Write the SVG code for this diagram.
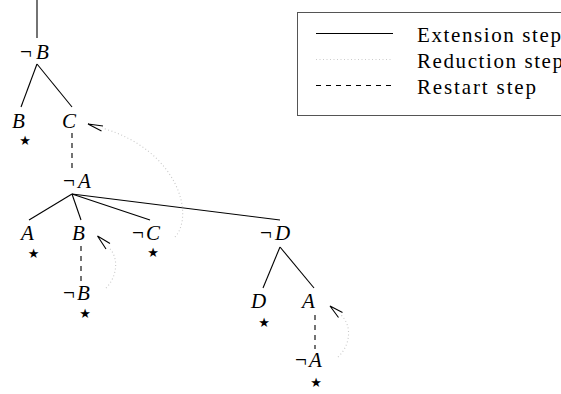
<svg xmlns="http://www.w3.org/2000/svg" width="561" height="394" viewBox="0 0 561 394">
<style>
.lbl{font-family:"Liberation Serif",serif;font-size:21px;fill:#000}
.v{font-style:italic}
.star{font-family:"DejaVu Sans",sans-serif;font-size:13px;fill:#000;text-anchor:middle}
.ext{stroke:#000;stroke-width:1.1;fill:none}
.res{stroke:#000;stroke-width:1.1;fill:none;stroke-dasharray:5 5}
.red{stroke:#c8c8c8;stroke-width:1.1;fill:none;stroke-dasharray:1 2.5}
.ah{stroke:#000;stroke-width:1.1;fill:none}
.leg{font-family:"Liberation Serif",serif;font-size:21px;fill:#000}
</style>
<rect width="561" height="394" fill="#fff"/>
<g id="connectors">
<line class="ext" x1="37" y1="0" x2="37" y2="38"/>
<line class="ext" x1="37" y1="64" x2="21" y2="107"/>
<line class="ext" x1="37" y1="64" x2="72" y2="107"/>
<line class="res" x1="72" y1="133" x2="72" y2="170"/>
<line class="ext" x1="72" y1="194" x2="29" y2="220"/>
<line class="ext" x1="72" y1="194" x2="81" y2="220"/>
<line class="ext" x1="72" y1="194" x2="150" y2="220"/>
<line class="ext" x1="72" y1="194" x2="280" y2="220"/>
<line class="res" x1="81" y1="246" x2="81" y2="281"/>
<line class="ext" x1="280" y1="247" x2="263" y2="288"/>
<line class="ext" x1="280" y1="247" x2="314" y2="288"/>
<line class="res" x1="315" y1="315" x2="315" y2="349"/>
<path class="red" d="M175,237 C195,215 178,150 102,128"/>
<polyline class="ah" points="103,126 88,124 101.5,131"/>
<path class="red" d="M106,288 C118,276 119,256 108,247"/>
<polyline class="ah" points="110,243.5 97.5,236 106,249"/>
<path class="red" d="M338,357 C351,345 352,325 341,315"/>
<polyline class="ah" points="342.5,312.5 330,306 338.5,317.5"/>
</g>
<g id="n_negB1"><text class="lbl" x="20" y="59">¬<tspan class="v" x="36">B</tspan></text></g>
<g id="n_B1"><text class="lbl v" x="12" y="128">B</text><text class="star" x="25" y="145">★</text></g>
<g id="n_C"><text class="lbl v" x="62" y="128">C</text></g>
<g id="n_negA1"><text class="lbl" x="63" y="188">¬<tspan class="v" x="78">A</tspan></text></g>
<g id="n_A1"><text class="lbl v" x="21" y="240">A</text><text class="star" x="33.5" y="257.5">★</text></g>
<g id="n_B2"><text class="lbl v" x="72" y="240">B</text></g>
<g id="n_negC"><text class="lbl" x="132" y="240">¬<tspan class="v" x="146">C</tspan></text><text class="star" x="153" y="257">★</text></g>
<g id="n_negD"><text class="lbl" x="260" y="240">¬<tspan class="v" x="275">D</tspan></text></g>
<g id="n_negB2"><text class="lbl" x="63" y="300">¬<tspan class="v" x="77">B</tspan></text><text class="star" x="85" y="318">★</text></g>
<g id="n_D"><text class="lbl v" x="251" y="308">D</text><text class="star" x="264" y="327">★</text></g>
<g id="n_A2"><text class="lbl v" x="302" y="308">A</text></g>
<g id="n_negA2"><text class="lbl" x="295" y="367">¬<tspan class="v" x="309">A</tspan></text><text class="star" x="316" y="387">★</text></g>
<g id="legend">
<rect x="297.5" y="12.5" width="300" height="103" fill="none" stroke="#555" stroke-width="1"/>
<line class="ext" x1="316" y1="33.5" x2="393" y2="33.5"/>
<line x1="316" y1="59.5" x2="393" y2="59.5" stroke="#ccc" stroke-width="1" stroke-dasharray="1 2.5"/>
<line class="res" x1="316" y1="85.5" x2="393" y2="85.5"/>
<text class="leg" x="417" y="41.5" textLength="144" lengthAdjust="spacing">Extension step</text>
<text class="leg" x="417" y="67.5" textLength="146" lengthAdjust="spacing">Reduction step</text>
<text class="leg" x="417" y="93.5" textLength="119" lengthAdjust="spacing">Restart step</text>
</g>
</svg>
